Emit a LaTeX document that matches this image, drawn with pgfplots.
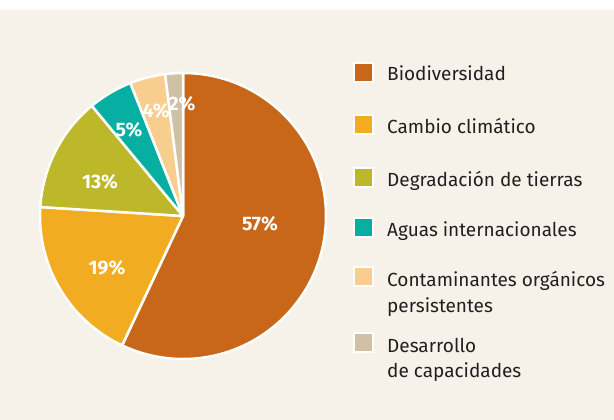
\documentclass[border=0pt]{standalone}
\usepackage{pgfplots}
\pgfplotsset{compat=1.18}
\usepackage{fontspec}
\setmainfont{Fira Sans}
\definecolor{bg}{HTML}{F6F2E9}
\definecolor{txt}{HTML}{231F20}
\definecolor{cBio}{HTML}{C8671A}
\definecolor{cCam}{HTML}{F2AC21}
\definecolor{cDeg}{HTML}{BDB82A}
\definecolor{cAgu}{HTML}{06AFA2}
\definecolor{cCon}{HTML}{F8CE8E}
\definecolor{cDes}{HTML}{D0C0A5}
\begin{document}
\begin{tikzpicture}
\begin{axis}[
  x=1pt, y=1pt,
  xmin=0, xmax=614, ymin=0, ymax=420,
  hide axis, clip=false,
]
% background panel
\fill[white] (axis cs:0,0) rectangle (axis cs:614,420);
\fill[bg] (axis cs:0,0) rectangle (axis cs:614,410);

% pie slices: value / colour, clockwise from 12 o'clock
\xdef\acc{0}
\foreach \v/\c in {57/cBio, 19/cCam, 13/cDeg, 5/cAgu, 4/cCon, 2/cDes}{
  \pgfmathsetmacro\a{90-3.6*\acc}
  \pgfmathsetmacro\b{90-3.6*(\acc+\v)}
  \edef\temp{\noexpand\fill[\c, draw=white, line width=2.5pt, line join=round]
    (axis cs:183,204) -- ++(\a:143pt) arc[start angle=\a, end angle=\b, radius=143pt] -- cycle;}
  \temp
  \pgfmathsetmacro\na{\acc+\v}
  \xdef\acc{\na}
}

% slice labels
\foreach \lab/\lx/\ly in {57/260/224, 19/107/268, 13/100/182, 5/129/130, 4/156/111, 2/182/104}{
  \edef\temp{\noexpand\node[white, font=\noexpand\bfseries\noexpand\fontsize{19.5}{21}\noexpand\selectfont]
    at (axis cs:\lx,420-\ly) {\lab\noexpand\%};}
  \temp
}

% legend
\foreach \c/\y in {cBio/73, cCam/125, cDeg/178, cAgu/228, cCon/277, cDes/343}{
  \edef\temp{\noexpand\node[fill=\c, draw=white, line width=2pt, minimum size=19pt, inner sep=0pt]
    at (axis cs:363,420-\y) {};}
  \temp
}
\foreach \t/\y in {Biodiversidad/80.7, Cambio climático/134, Degradación de tierras/187,
  Aguas internacionales/237, Contaminantes orgánicos/287, persistentes/313,
  Desarrollo/353, de capacidades/378}{
  \edef\temp{\noexpand\node[txt, anchor=base west, inner sep=0pt, font=\noexpand\fontsize{19}{23}\noexpand\selectfont]
    at (axis cs:387,420-\y) {\t};}
  \temp
}
\end{axis}
\end{tikzpicture}
\end{document}
